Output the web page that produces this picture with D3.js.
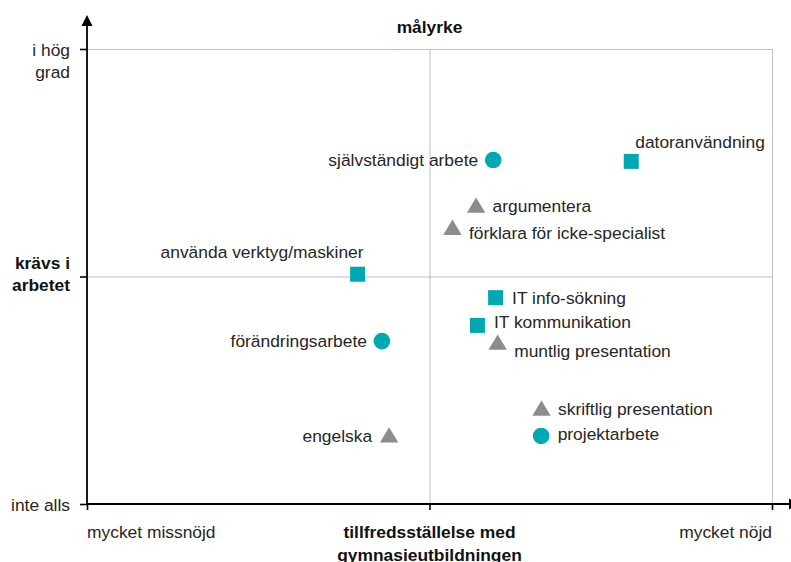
<!DOCTYPE html>
<html lang="sv">
<head>
<meta charset="utf-8">
<title>målyrke</title>
<script src="https://cdnjs.cloudflare.com/ajax/libs/d3/7.8.5/d3.min.js"></script>
<style>
  html, body { margin: 0; padding: 0; background: #fff; }
  text { font-family: "Liberation Sans", Arial, sans-serif; }
</style>
</head>
<body>
<script>
// ---- data ----
var skills = ["självständigt arbete", "datoranvändning", "argumentera",
  "förklara för icke-specialist", "använda verktyg/maskiner", "IT info-sökning",
  "IT kommunikation", "förändringsarbete", "muntlig presentation",
  "skriftlig presentation", "projektarbete", "engelska"];
// x: tillfredsställelse (-1 mycket missnöjd .. 1 mycket nöjd)
var satisfaction = [0.186, 0.589, 0.136, 0.067, -0.210, 0.193, 0.140, -0.139, 0.199, 0.327, 0.326, -0.118];
// y: krävs i arbetet (-1 inte alls .. 1 i hög grad)
var demand = [0.512, 0.506, 0.312, 0.215, 0.010, -0.093, -0.215, -0.284, -0.290, -0.580, -0.701, -0.698];
var markerType = ["circle", "square", "triangle", "triangle", "square", "square",
  "square", "circle", "triangle", "triangle", "circle", "triangle"];

var xTicks = [-1, 0, 1];
var xTickLabels = [["mycket missnöjd"], ["tillfredsställelse med", "gymnasieutbildningen"], ["mycket nöjd"]];
var yTicks = [-1, 0, 1];
var yTickLabels = [["inte alls"], ["krävs i", "arbetet"], ["i hög", "grad"]];
var title = "målyrke";

// label placement per point (layout, not data)
var labelSide = ["left", "above-right", "right", "right", "above-left", "right",
  "right", "left", "right", "right", "right", "left"];
var labelNudge = [0, 0, 0, 5, 0, 0, -4, 0, 8, 0, -2, 0];

// ---- layout ----
var w = 791, h = 562;
var padLeft = 87, padRight = 772, padTop = 49, padBottom = 504;
var teal = "#00a9b1", grey = "#8c8c8c", ink = "#262626", gridCol = "#bdbdbd";
var fs = 17.4;

var svg = d3.select("body").append("svg")
  .attr("width", w).attr("height", h);

var x = d3.scaleLinear().domain([-1, 1]).range([padLeft, padRight]);
var y = d3.scaleLinear().domain([-1, 1]).range([padBottom, padTop]);

// grid
var grid = svg.append("g").attr("stroke", gridCol).attr("stroke-width", 1);
grid.selectAll("line.h")
  .data(yTicks.filter(function(d) { return d > -1; }))
  .enter().append("line").attr("class", "h")
  .attr("x1", padLeft).attr("x2", padRight)
  .attr("y1", function(d) { return y(d) + 0.5; })
  .attr("y2", function(d) { return y(d) + 0.5; });
grid.selectAll("line.v")
  .data(xTicks.filter(function(d) { return d > -1; }))
  .enter().append("line").attr("class", "v")
  .attr("y1", padTop).attr("y2", padBottom)
  .attr("x1", function(d) { return x(d) + 0.5; })
  .attr("x2", function(d) { return x(d) + 0.5; });

// axes (ticks via d3 axes, lines + arrows drawn by hand)
var yAxis = d3.axisLeft(y).tickValues(yTicks).tickSize(7).tickFormat("");
var xAxis = d3.axisBottom(x).tickValues(xTicks).tickSize(6).tickFormat("");

var gy = svg.append("g").attr("transform", "translate(" + padLeft + ",0)").call(yAxis);
var gx = svg.append("g").attr("transform", "translate(0," + padBottom + ")").call(xAxis);
[gy, gx].forEach(function(g) {
  g.select(".domain").remove();
  g.selectAll(".tick line").attr("stroke", "#000").attr("stroke-width", 1.6);
});

svg.append("line")
  .attr("x1", padLeft).attr("x2", padLeft).attr("y1", padBottom + 1).attr("y2", 22)
  .attr("stroke", "#000").attr("stroke-width", 1.8);
svg.append("path")
  .attr("d", "M" + padLeft + ",15 L" + (padLeft + 5.5) + ",26 L" + (padLeft - 5.5) + ",26 Z")
  .attr("fill", "#000");
svg.append("line")
  .attr("x1", padLeft - 1).attr("x2", 792).attr("y1", padBottom).attr("y2", padBottom)
  .attr("stroke", "#000").attr("stroke-width", 1.8);
svg.append("path")
  .attr("d", "M800," + padBottom + " L789," + (padBottom - 5.5) + " L789," + (padBottom + 5.5) + " Z")
  .attr("fill", "#000");

// y tick labels
yTicks.forEach(function(t, i) {
  var lines = yTickLabels[i];
  var bold = (t === 0);
  var start = bold ? y(t) - 8 : y(t) + 6.5;
  var tx = svg.append("text")
    .attr("text-anchor", "end")
    .attr("font-size", fs)
    .attr("font-weight", bold ? "bold" : "normal")
    .attr("fill", bold ? "#111" : ink);
  lines.forEach(function(l, j) {
    tx.append("tspan").attr("x", 70).attr("y", start + j * 22).text(l);
  });
});

// x tick labels
xTicks.forEach(function(t, i) {
  var lines = xTickLabels[i];
  var bold = (t === 0);
  var anchor = t < 0 ? "start" : (t > 0 ? "end" : "middle");
  var tx = svg.append("text")
    .attr("text-anchor", anchor)
    .attr("font-size", fs)
    .attr("font-weight", bold ? "bold" : "normal")
    .attr("fill", bold ? "#111" : ink);
  lines.forEach(function(l, j) {
    tx.append("tspan").attr("x", x(t)).attr("y", 538 + j * 23).text(l);
  });
});

// title
svg.append("text")
  .attr("x", x(0)).attr("y", 33)
  .attr("text-anchor", "middle")
  .attr("font-size", fs).attr("font-weight", "bold").attr("fill", "#111")
  .text(title);

// markers
var pts = skills.map(function(s, i) {
  return { name: s, sx: satisfaction[i], sy: demand[i], type: markerType[i],
           side: labelSide[i], nudge: labelNudge[i] };
});

var marks = svg.append("g").selectAll("g")
  .data(pts).enter().append("g")
  .attr("transform", function(d) { return "translate(" + x(d.sx) + "," + y(d.sy) + ")"; });

marks.filter(function(d) { return d.type === "circle"; })
  .append("circle").attr("r", 8.3).attr("fill", teal);
marks.filter(function(d) { return d.type === "square"; })
  .append("rect").attr("x", -7.5).attr("y", -7.5).attr("width", 15).attr("height", 15).attr("fill", teal);
marks.filter(function(d) { return d.type === "triangle"; })
  .append("path").attr("d", "M0,-8 L9.2,7.3 L-9.2,7.3 Z").attr("fill", grey);

// labels
marks.append("text")
  .attr("font-size", fs)
  .attr("fill", ink)
  .attr("dy", "0.36em")
  .attr("text-anchor", function(d) {
    return (d.side === "left" || d.side === "above-left") ? "end" : "start";
  })
  .attr("x", function(d) {
    if (d.side === "right") return 16.5;
    if (d.side === "left") return d.type === "triangle" ? -17 : -15;
    if (d.side === "above-right") return 4;
    return 6;
  })
  .attr("y", function(d) {
    if (d.side === "above-right") return -20;
    if (d.side === "above-left") return -22;
    return d.nudge;
  })
  .text(function(d) { return d.name; });
</script>
</body>
</html>
